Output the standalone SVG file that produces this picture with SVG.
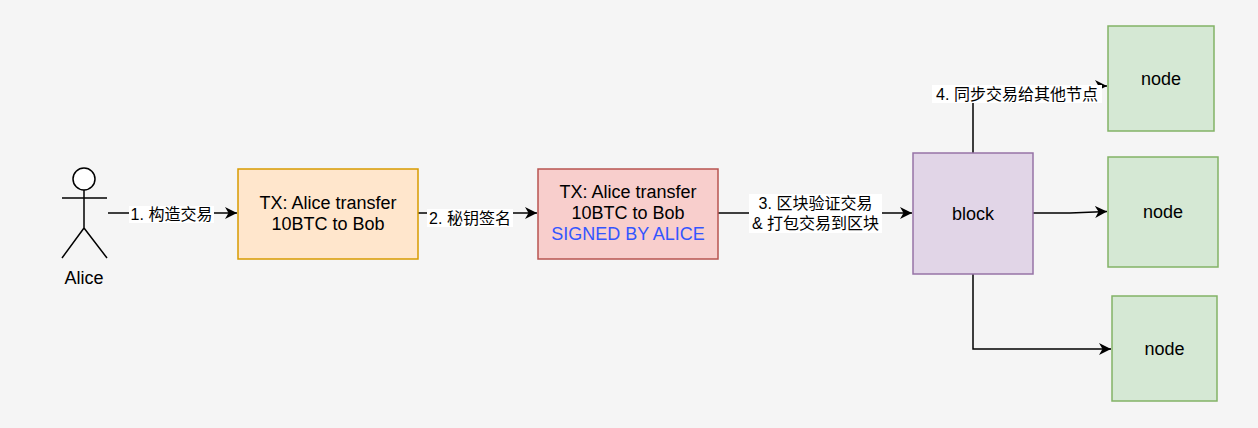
<svg xmlns="http://www.w3.org/2000/svg" width="1258" height="428" viewBox="0 0 1258 428">
<defs>
<style>
.t{font-family:"Liberation Sans","Noto Sans CJK SC",sans-serif;font-size:18px;fill:#000;text-anchor:middle;dominant-baseline:central}
.lb{font-family:"Liberation Sans","Noto Sans CJK SC",sans-serif;font-size:16px;fill:#000;text-anchor:middle;dominant-baseline:central}
.e{fill:none;stroke:#000;stroke-width:1.5}
.lbg{fill:#fff}
</style>
<marker id="ar" markerUnits="userSpaceOnUse" markerWidth="14" markerHeight="14" refX="12" refY="6" orient="auto">
<path d="M0,0 L12,6 L0,12 L3.5,6 z" fill="#000"/>
</marker>
</defs>
<rect width="1258" height="428" fill="#f5f5f5"/>
<g id="connectors">
<path class="e" d="M108,213 L237,213" marker-end="url(#ar)"/>
<rect class="lbg" x="129" y="206" width="85" height="17"/>
<text class="lb" x="171.5" y="214.5">1. 构造交易</text>
<path class="e" d="M418,213 L537,213" marker-end="url(#ar)"/>
<rect class="lbg" x="427" y="209" width="86" height="18"/>
<text class="lb" x="470" y="218">2. 秘钥签名</text>
<path class="e" d="M718,213 L912,213" marker-end="url(#ar)"/>
<rect class="lbg" x="749" y="194" width="133" height="39"/>
<text class="lb" x="815.5" y="203.5">3. 区块验证交易</text>
<text class="lb" x="815.5" y="223.5">&amp; 打包交易到区块</text>
<path class="e" d="M973,153 L973,86 L1107,86" marker-end="url(#ar)"/>
<rect class="lbg" x="932" y="85" width="170" height="18"/>
<text class="lb" x="1017" y="94">4. 同步交易给其他节点</text>
<path class="e" d="M1033,213 L1070,213 L1107,211.5" marker-end="url(#ar)"/>
<path class="e" d="M973,274 L973,349 L1111,349" marker-end="url(#ar)"/>
</g>
<g id="alice" fill="none" stroke="#000" stroke-width="1.5">
<circle cx="84" cy="179" r="11" fill="#fff"/>
<path d="M84,190 L84,228 M62,198 L107,198 M84,228 L62,258 M84,228 L107,258"/>
<text class="t" x="84" y="278" stroke="none">Alice</text>
</g>
<g id="tx">
<rect x="238" y="169" width="180" height="90" fill="#ffe6cc" stroke="#d79b00" stroke-width="1.5"/>
<text class="t" x="328" y="203">TX: Alice transfer</text>
<text class="t" x="328" y="224">10BTC to Bob</text>
</g>
<g id="tx-signed">
<rect x="538" y="169" width="180" height="90" fill="#f8cecc" stroke="#b85450" stroke-width="1.5"/>
<text class="t" x="628" y="192">TX: Alice transfer</text>
<text class="t" x="628" y="213">10BTC to Bob</text>
<text class="t" x="628" y="234" style="fill:#3355ff">SIGNED BY ALICE</text>
</g>
<g id="block">
<rect x="913" y="153" width="120" height="121" fill="#e1d5e7" stroke="#9673a6" stroke-width="1.5"/>
<text class="t" x="973" y="213.5">block</text>
</g>
<g id="node1">
<rect x="1108" y="26" width="106" height="105" fill="#d5e8d4" stroke="#82b366" stroke-width="1.5"/>
<text class="t" x="1161" y="78.5">node</text>
</g>
<g id="node2">
<rect x="1108" y="157" width="110" height="110" fill="#d5e8d4" stroke="#82b366" stroke-width="1.5"/>
<text class="t" x="1163" y="212">node</text>
</g>
<g id="node3">
<rect x="1112" y="296" width="105" height="105" fill="#d5e8d4" stroke="#82b366" stroke-width="1.5"/>
<text class="t" x="1164.5" y="348.5">node</text>
</g>
</svg>
